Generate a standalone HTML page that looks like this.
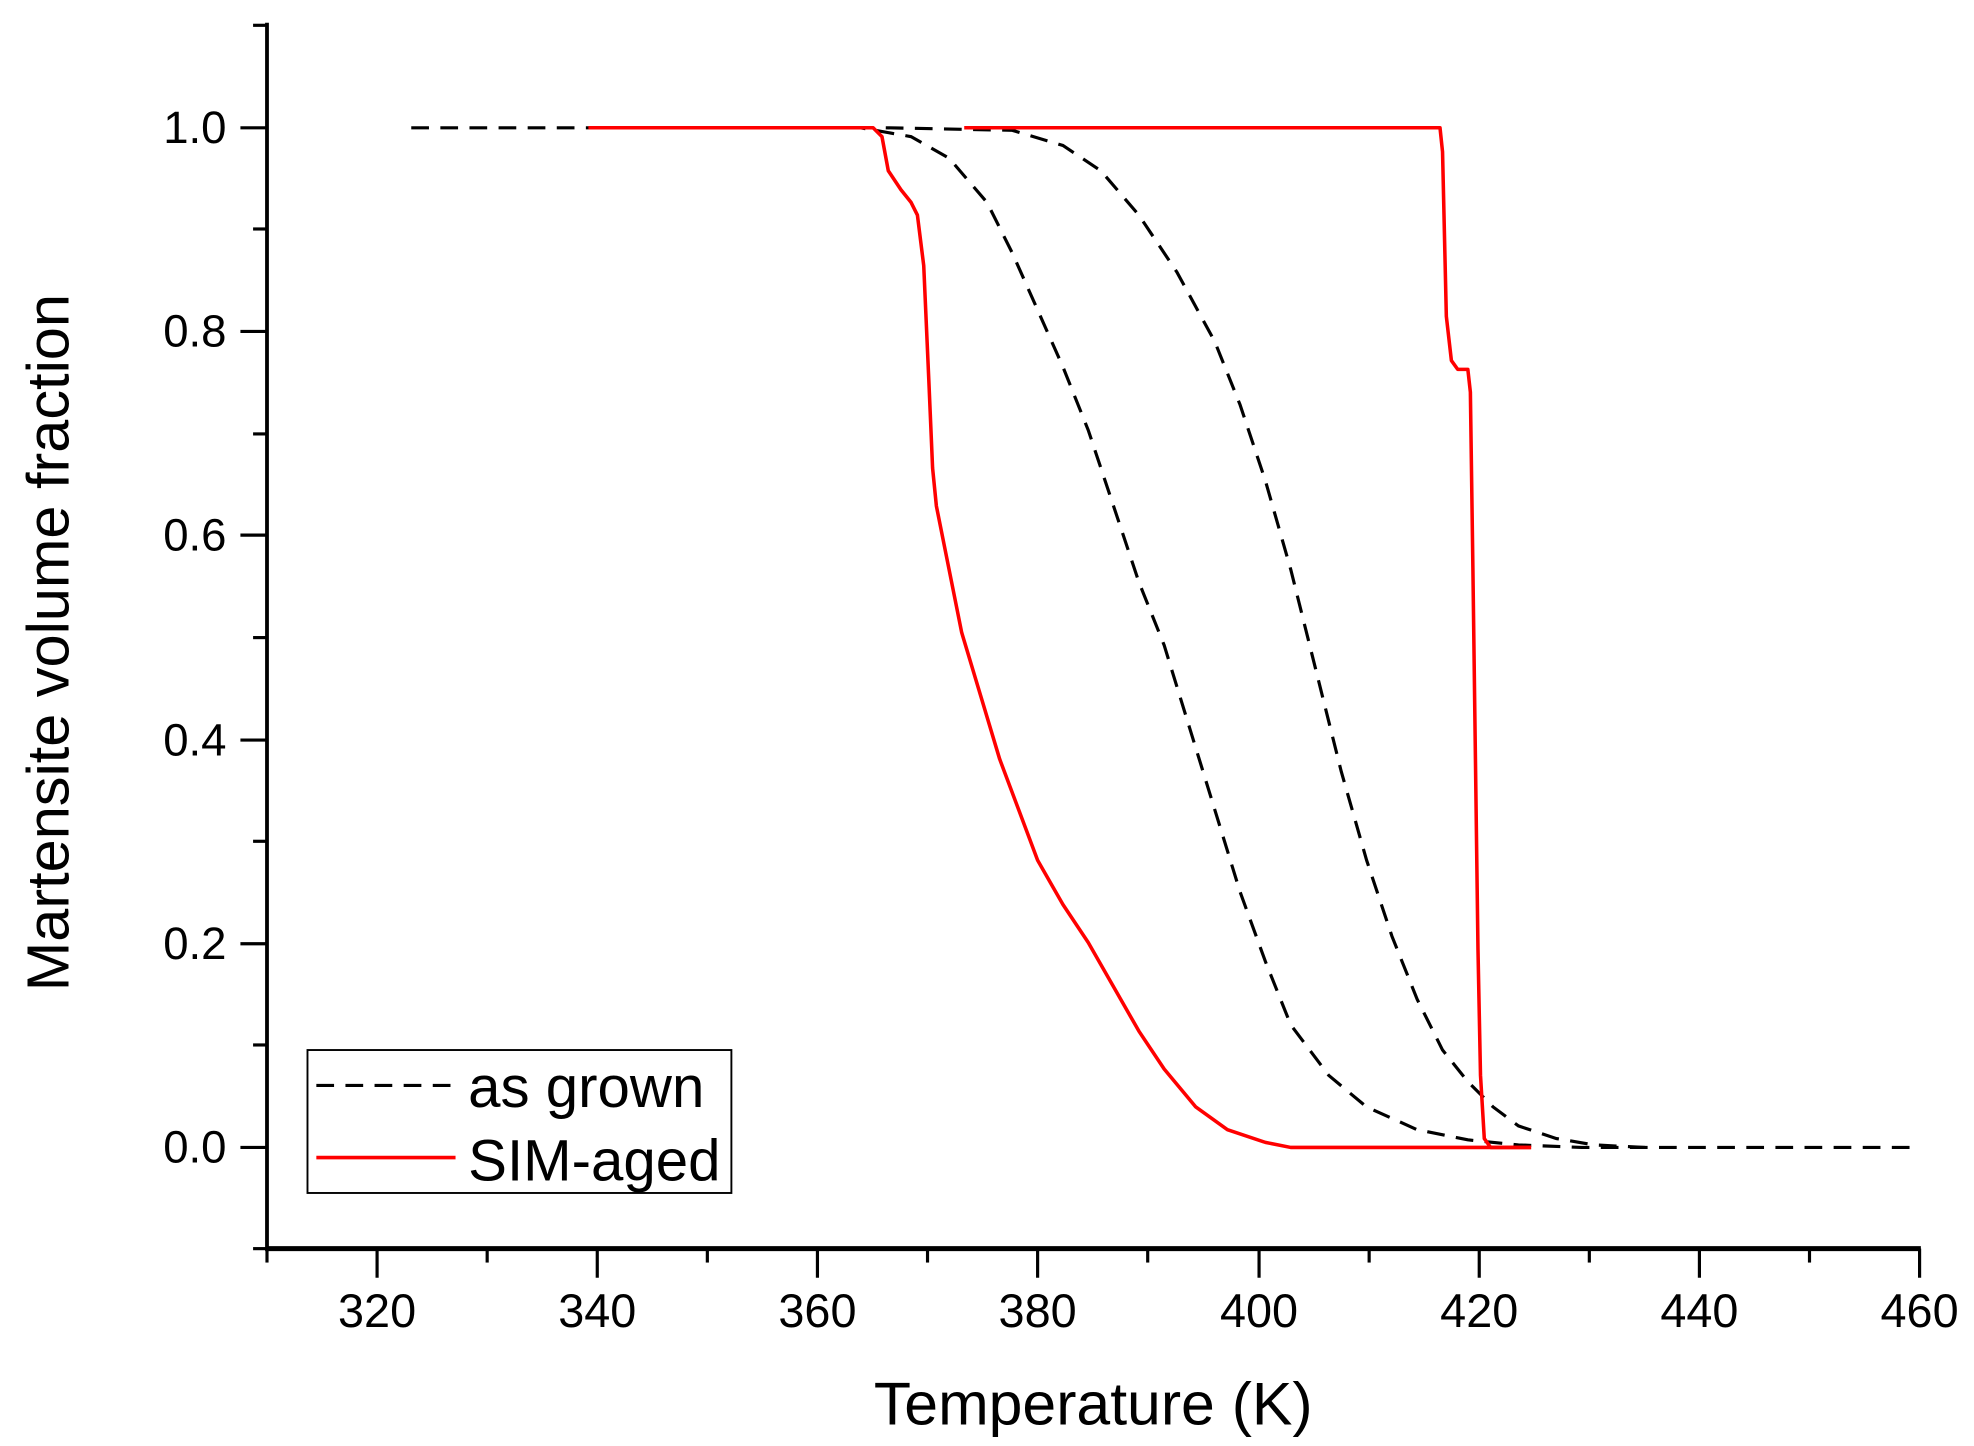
<!DOCTYPE html>
<html><head><style>html,body{margin:0;padding:0;background:#fff}svg{display:block}</style></head><body>
<svg width="1974" height="1446" viewBox="0 0 1560 1143" preserveAspectRatio="none" xmlns="http://www.w3.org/2000/svg" font-family="Liberation Sans, Arial, sans-serif">
<rect width="1560" height="1143" fill="#fff"/>
<g stroke="#000" stroke-width="3">
<line x1="211" y1="18" x2="211" y2="989"/>
<line x1="210" y1="987" x2="1518" y2="987" stroke-width="4"/>
</g>
<g stroke="#000" stroke-width="2.5">
<line x1="190" y1="101" x2="211" y2="101"/><line x1="190" y1="262" x2="211" y2="262"/><line x1="190" y1="423" x2="211" y2="423"/><line x1="190" y1="585" x2="211" y2="585"/><line x1="190" y1="746" x2="211" y2="746"/><line x1="190" y1="907" x2="211" y2="907"/>
<line x1="200" y1="20" x2="211" y2="20"/><line x1="200" y1="181" x2="211" y2="181"/><line x1="200" y1="343" x2="211" y2="343"/><line x1="200" y1="504" x2="211" y2="504"/><line x1="200" y1="665" x2="211" y2="665"/><line x1="200" y1="826" x2="211" y2="826"/><line x1="200" y1="987" x2="211" y2="987"/>
</g>
<g stroke="#000" stroke-width="2.5">
<line x1="298" y1="987" x2="298" y2="1010"/><line x1="472" y1="987" x2="472" y2="1010"/><line x1="646" y1="987" x2="646" y2="1010"/><line x1="820" y1="987" x2="820" y2="1010"/><line x1="995" y1="987" x2="995" y2="1010"/><line x1="1169" y1="987" x2="1169" y2="1010"/><line x1="1343" y1="987" x2="1343" y2="1010"/><line x1="1517" y1="987" x2="1517" y2="1010"/>
<line x1="211" y1="987" x2="211" y2="998"/><line x1="385" y1="987" x2="385" y2="998"/><line x1="559" y1="987" x2="559" y2="998"/><line x1="733" y1="987" x2="733" y2="998"/><line x1="907" y1="987" x2="907" y2="998"/><line x1="1082" y1="987" x2="1082" y2="998"/><line x1="1256" y1="987" x2="1256" y2="998"/><line x1="1430" y1="987" x2="1430" y2="998"/>
</g>
<g font-size="36" text-anchor="end" fill="#000">
<text x="179" y="113">1.0</text><text x="179" y="274">0.8</text><text x="179" y="435">0.6</text><text x="179" y="597">0.4</text><text x="179" y="758">0.2</text><text x="179" y="919">0.0</text>
</g>
<g font-size="37" text-anchor="middle" fill="#000">
<text x="298" y="1049">320</text><text x="472" y="1049">340</text><text x="646" y="1049">360</text><text x="820" y="1049">380</text><text x="995" y="1049">400</text><text x="1169" y="1049">420</text><text x="1343" y="1049">440</text><text x="1517" y="1049">460</text>
</g>
<text x="864" y="1126" font-size="48" text-anchor="middle">Temperature (K)</text>
<text transform="translate(54,508) rotate(-90)" font-size="47" text-anchor="middle">Martensite volume fraction</text>
<g fill="none" stroke="#000" stroke-width="2.5" stroke-dasharray="14,9">
<polyline points="325,101 680,101 720,108 750,125 780,160 800,200 820,245 840,290 860,340 880,400 900,460 920,510 940,575 960,640 980,705 1000,760 1020,810 1050,850 1080,875 1120,893 1160,901 1200,905 1250,907 1517,907"/>
<polyline points="700,101 800,103 840,115 870,135 900,170 930,215 960,270 980,320 1000,380 1020,450 1040,530 1060,610 1080,680 1100,740 1120,790 1140,830 1160,855 1180,875 1200,890 1230,900 1260,905 1300,907"/>
</g>
<g fill="none" stroke="#f00" stroke-width="2.8" stroke-linejoin="round">
<polyline points="465,101 690,101 697,108 702,135 712,150 720,160 725,170 730,210 734,300 737,370 740,400 750,450 760,500 775,550 790,600 805,640 820,680 840,715 860,745 880,780 900,815 920,845 945,875 970,893 1000,903 1020,907 1210,907"/>
<polyline points="762,101 1138,101 1140,120 1143,250 1147,285 1152,292 1160,292 1162,310 1164,450 1166,600 1168,750 1170,850 1173,900 1178,907 1210,907"/>
</g>
<rect x="243" y="830" width="335" height="113" fill="#fff" stroke="#000" stroke-width="1.5"/>
<line x1="250" y1="858" x2="360" y2="858" stroke="#000" stroke-width="2.5" stroke-dasharray="14,9"/>
<line x1="250" y1="915" x2="360" y2="915" stroke="#f00" stroke-width="2.8"/>
<text x="370" y="875" font-size="46">as grown</text>
<text x="370" y="933" font-size="46">SIM-aged</text>
</svg>
</body></html>
